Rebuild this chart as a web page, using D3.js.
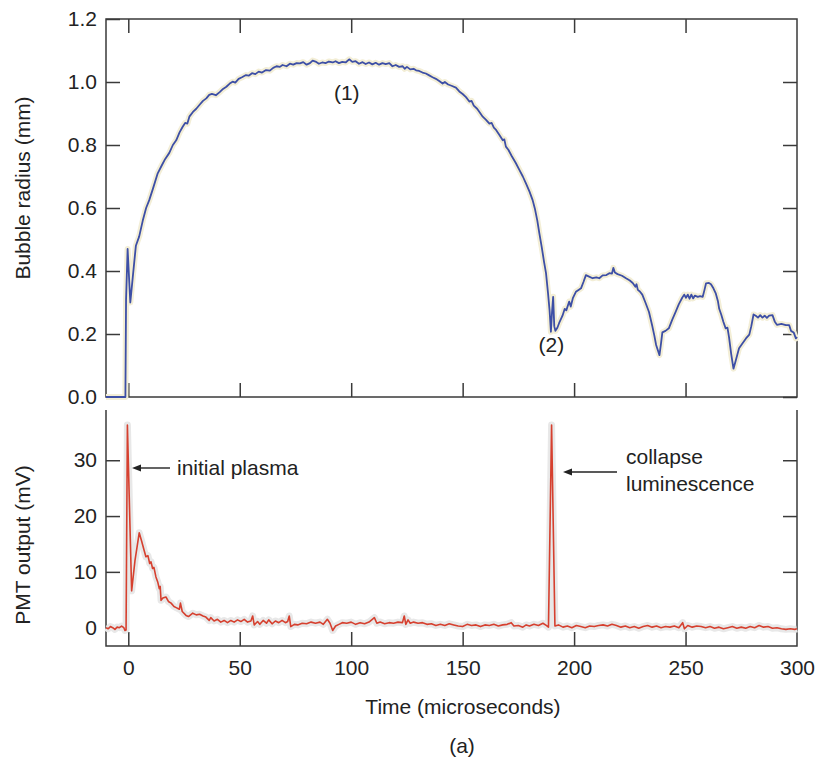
<!DOCTYPE html>
<html>
<head>
<meta charset="utf-8">
<script src="https://cdn.jsdelivr.net/npm/d3@7"></script>
<style>
    body { margin: 0; background: #fff; }
    text { font-family: Arial, 'Liberation Sans', sans-serif; fill: #222; }
</style>
</head>
<body>
<div id="chart"></div>
<script>
// bubble radius (mm) vs time (microseconds)
const radius_time = [
    -10, -1.3, -1.0, -0.3, 0.9, 2.0, 3.4, 4.9, 6.5, 8.0, 9.4, 11.0, 13.2, 15.0, 16.5, 18.4, 20.0, 21.5, 23.0, 24.4,
    25.5, 26.5, 27.4, 29.0, 30.5, 31.9, 33.5, 35.0, 36.3, 37.5, 39.3, 41.0, 42.5, 44.0, 45.5, 46.8, 48.0, 49.5, 51.0, 52.8,
    54.0, 55.5, 57.0, 58.5, 60.0, 61.8, 63.5, 65.0, 66.5, 68.0, 69.2, 71.0, 72.5, 74.0, 75.5, 77.0, 78.5, 80.0, 81.5, 82.7,
    84.0, 85.5, 87.0, 88.5, 90.0, 91.7, 93.0, 94.5, 96.0, 97.5, 99.1, 100.5, 102.0, 103.5, 105.1, 106.5, 108.0, 109.5, 111.0, 112.5,
    114.0, 115.5, 117.1, 118.5, 120.0, 121.5, 123.1, 124.0, 125.0, 126.5, 128.0, 129.1, 130.5, 132.0, 133.5, 135.0, 136.5, 138.0, 139.5, 141.0,
    142.0, 143.5, 145.0, 147.0, 148.5, 150.0, 151.5, 153.0, 154.0, 155.0, 156.5, 158.0, 159.0, 160.5, 162.0, 163.0, 164.0, 165.0, 166.5, 168.0,
    168.7, 169.4, 170.5, 172.0, 173.9, 175.5, 177.0, 178.4, 180.0, 181.4, 182.5, 183.5, 184.4, 185.5, 186.5, 187.4, 188.3, 189.0, 189.6, 190.1,
    190.6, 191.1, 191.6, 192.5, 193.3, 194.8, 195.8, 196.5, 197.8, 198.5, 199.5, 200.8, 202.0, 203.1, 204.2, 205.3, 206.5, 208.3, 210.0, 211.3,
    212.8, 214.5, 215.8, 217.0, 217.6, 218.3, 219.5, 221.5, 223.3, 225.0, 226.3, 227.5, 228.0, 228.6, 229.5, 230.6, 232.0, 233.6, 235.0, 236.0,
    236.8, 237.5, 238.3, 239.0, 239.6, 241.0, 242.5, 244.0, 245.6, 247.0, 248.5, 249.4, 250.2, 251.0, 251.8, 252.6, 253.4, 254.2, 255.5, 256.5,
    257.7, 258.5, 259.2, 260.5, 261.4, 262.5, 263.6, 264.5, 265.1, 266.0, 267.0, 268.0, 268.8, 269.5, 270.5, 271.5, 272.5, 274.0, 275.5, 277.1,
    278.6, 279.5, 280.5, 281.5, 282.5, 283.5, 284.5, 285.5, 286.5, 287.5, 289.0, 290.0, 291.0, 293.0, 295.0, 296.5, 297.3, 298.5, 299.5, 300
];
const radius_mm = [
    0, 0, 0.31, 0.47, 0.30, 0.38, 0.48, 0.51, 0.56, 0.60, 0.625, 0.66, 0.71, 0.735, 0.755, 0.775, 0.80, 0.815, 0.84, 0.858,
    0.87, 0.868, 0.89, 0.905, 0.915, 0.927, 0.94, 0.948, 0.959, 0.962, 0.958, 0.968, 0.978, 0.985, 0.995, 1.001, 0.998, 1.01, 1.015, 1.022,
    1.02, 1.028, 1.025, 1.033, 1.03, 1.038, 1.036, 1.045, 1.05, 1.048, 1.054, 1.05, 1.058, 1.055, 1.06, 1.059, 1.063, 1.055, 1.06, 1.068,
    1.065, 1.058, 1.062, 1.06, 1.065, 1.062, 1.066, 1.06, 1.064, 1.062, 1.072, 1.064, 1.066, 1.058, 1.063, 1.057, 1.062, 1.056, 1.061, 1.055,
    1.06, 1.057, 1.06, 1.05, 1.054, 1.048, 1.05, 1.042, 1.048, 1.04, 1.042, 1.037, 1.035, 1.03, 1.027, 1.021, 1.015, 1.01, 1.003, 0.995,
    1.0, 0.992, 0.988, 0.982, 0.97, 0.962, 0.952, 0.938, 0.94, 0.925, 0.915, 0.9, 0.89, 0.88, 0.868, 0.87, 0.855, 0.848, 0.832, 0.815,
    0.818, 0.795, 0.785, 0.765, 0.742, 0.72, 0.7, 0.678, 0.652, 0.625, 0.595, 0.56, 0.52, 0.475, 0.43, 0.393, 0.33, 0.275, 0.207, 0.27,
    0.318, 0.225, 0.21, 0.22, 0.235, 0.258, 0.28, 0.275, 0.303, 0.287, 0.315, 0.334, 0.34, 0.345, 0.365, 0.387, 0.383, 0.377, 0.38, 0.377,
    0.386, 0.387, 0.393, 0.392, 0.41, 0.395, 0.39, 0.385, 0.377, 0.37, 0.362, 0.35, 0.358, 0.34, 0.335, 0.325, 0.3, 0.27, 0.228, 0.195,
    0.165, 0.15, 0.133, 0.17, 0.205, 0.21, 0.218, 0.245, 0.271, 0.295, 0.315, 0.325, 0.315, 0.325, 0.312, 0.325, 0.313, 0.322, 0.318, 0.32,
    0.318, 0.34, 0.361, 0.362, 0.358, 0.345, 0.328, 0.305, 0.28, 0.262, 0.238, 0.218, 0.22, 0.19, 0.135, 0.09, 0.115, 0.155, 0.17, 0.186,
    0.198, 0.225, 0.262, 0.258, 0.252, 0.26, 0.252, 0.258, 0.251, 0.258, 0.26, 0.24, 0.229, 0.232, 0.228, 0.228, 0.21, 0.205, 0.186, 0.19
];

// PMT output (mV) vs time (microseconds)
const pmt_time = [
    -10, -9, -8, -7, -6, -5, -4, -3, -2, -1.5, -1.0, -0.4, 1.5, 3.0, 4.9, 6.0, 7.0, 7.9, 8.8, 9.6,
    10.2, 10.9, 11.5, 12.4, 13.2, 13.9, 14.3, 14.7, 15.5, 16.9, 18.0, 19.2, 20.5, 21.5, 22.9, 23.4, 24.2, 25.9, 27.0, 28.9,
    30.5, 32.0, 33.5, 34.8, 36.3, 37.0, 38.5, 40.0, 41.5, 43.0, 44.5, 46.0, 47.5, 49.0, 50.5, 52.0, 53.5, 55.0, 55.8, 56.5,
    58.0, 59.0, 60.5, 62.0, 63.0, 64.5, 66.0, 67.5, 69.0, 70.5, 71.5, 72.2, 72.9, 74.5, 76.0, 78.0, 80.0, 82.0, 84.0, 86.0,
    87.5, 89.3, 90.5, 91.7, 93.0, 94.5, 96.0, 98.0, 100.0, 102.0, 104.0, 106.0, 108.0, 110.4, 111.5, 113.0, 115.0, 117.0, 119.0, 121.0,
    123.0, 123.8, 124.5, 125.5, 126.5, 128.0, 130.0, 132.0, 134.0, 136.0, 138.0, 140.0, 142.0, 144.0, 146.0, 148.0, 150.0, 152.0, 154.0, 156.0,
    158.0, 160.0, 162.0, 164.0, 166.0, 168.0, 170.0, 171.8, 173.0, 175.0, 177.0, 178.5, 180.0, 182.0, 184.0, 186.0, 187.5, 188.5, 189.9, 191.4,
    193.0, 195.0, 197.0, 199.0, 201.0, 203.0, 205.0, 207.0, 209.0, 211.0, 213.0, 215.0, 217.0, 219.0, 221.0, 223.0, 225.0, 227.0, 229.0, 231.0,
    233.0, 235.0, 237.0, 239.0, 241.0, 243.0, 245.0, 247.0, 248.7, 249.5, 251.0, 253.0, 255.0, 257.0, 259.0, 261.0, 263.0, 265.0, 267.0, 269.0,
    271.0, 273.0, 275.0, 277.0, 279.0, 281.0, 283.0, 285.0, 287.0, 289.0, 291.0, 293.0, 295.0, 297.0, 299.0, 300
];
const pmt_mv = [
    0, -0.2, 0.2, 0, -0.3, 0.1, 0, 0.3, 0, -0.5, -0.4, 36.3, 6.6, 12, 17.0, 15.5, 14, 12.7, 12.9, 11.5,
    11.8, 10.6, 10.8, 9.1, 8.2, 7.0, 7.4, 4.9, 5.3, 5.5, 4.7, 4.4, 3.8, 3.6, 3.3, 4.4, 2.9, 2.2, 2.0, 2.6,
    2.3, 2.4, 2.1, 1.9, 1.3, 1.8, 1.2, 1.5, 1.0, 1.3, 0.9, 1.3, 1.0, 1.4, 1.1, 1.5, 1.0, 1.2, 2.1, 0.5,
    1.1, 0.6, 1.3, 0.8, 1.4, 0.7, 1.2, 0.9, 1.3, 0.9, 1.1, 2.1, 0.2, 0.6, 0.5, 0.8, 0.7, 1.0, 0.8, 1.0,
    0.6, 1.5, 0.8, -0.5, 0.3, 0.6, 0.9, 0.8, 1.0, 0.6, 0.9, 0.7, 1.0, 1.8, 0.8, 1.0, 0.7, 0.9, 0.8, 1.0,
    0.9, 2.1, 0.6, 1.4, 0.8, 1.0, 0.8, 0.9, 0.6, 0.7, 0.4, 0.6, 0.4, 0.7, 0.5, 0.3, 0.2, 0.6, 0.4, 0.5,
    0.2, 0.5, 0.4, 0.6, 0.3, 0.5, 0.6, 0.9, 0.3, 0.4, 0.1, 0.5, 0.3, 0.6, 0.4, 0.8, 0.4, 0.1, 36.3, 0.3,
    0.5, 0.1, 0.3, 0.0, 0.4, 0.2, 0.0, 0.3, 0.2, 0.4, 0.5, 0.3, 0.6, 0.4, 0.1, 0.3, 0.0, 0.2, -0.1, 0.2,
    0.4, 0.1, 0.3, 0.0, 0.2, 0.1, 0.3, 0.0, 0.9, -0.2, 0.4, 0.1, 0.3, 0.2, 0.0, 0.2, -0.1, 0.1, -0.2, 0.0,
    0.2, -0.1, 0.1, -0.1, 0.2, 0.0, 0.4, 0.1, 0.2, -0.1, 0.0, -0.2, -0.3, -0.2, -0.3, -0.2
];

const time_ticks = [0, 50, 100, 150, 200, 250, 300];
const radius_ticks = [0.0, 0.2, 0.4, 0.6, 0.8, 1.0, 1.2];
const pmt_ticks = [0, 10, 20, 30];

const chart_width = 825;
const chart_height = 760;
const left = 106;
const right = 797;
const top_panel = [19, 397];
const bottom_panel = [410, 646];
const tick_len = 14;
const font_size = 21;
const frame_color = '#3a3a3a';

const svg = d3.select('#chart')
    .append('svg')
    .attr('width', chart_width)
    .attr('height', chart_height);

// Scales
const x_scale = d3.scaleLinear()
    .domain([-10, 300])
    .range([left, right]);

const r_scale = d3.scaleLinear()
    .domain([0, 1.2])
    .range([top_panel[1], top_panel[0]]);

const v_scale = d3.scaleLinear()
    .domain([-3.28, 39.0])
    .range([bottom_panel[1], bottom_panel[0]]);

// style helper for axes
function style_axis(g) {
    g.select('.domain').remove();
    g.selectAll('.tick line')
        .attr('stroke', frame_color)
        .attr('stroke-width', 1.5);
    g.selectAll('.tick text')
        .attr('font-size', font_size)
        .attr('fill', '#222');
}

// top panel axes
svg.append('g')
    .attr('transform', `translate(${left},0)`)
    .call(d3.axisLeft(r_scale).tickValues(radius_ticks).tickFormat(d3.format('.1f'))
        .tickSize(-tick_len).tickPadding(9))
    .call(style_axis);

svg.append('g')
    .attr('transform', `translate(${right},0)`)
    .call(d3.axisRight(r_scale).tickValues(radius_ticks.slice(0, 6)).tickFormat('')
        .tickSize(-tick_len))
    .call(style_axis);

svg.append('g')
    .attr('transform', `translate(0,${top_panel[0]})`)
    .call(d3.axisTop(x_scale).tickValues(time_ticks.slice(0, 6)).tickFormat('')
        .tickSize(-tick_len))
    .call(style_axis);

svg.append('g')
    .attr('transform', `translate(0,${top_panel[1]})`)
    .call(d3.axisBottom(x_scale).tickValues(time_ticks.slice(0, 6)).tickFormat('')
        .tickSize(-tick_len))
    .call(style_axis);

// bottom panel axes
svg.append('g')
    .attr('transform', `translate(${left},0)`)
    .call(d3.axisLeft(v_scale).tickValues(pmt_ticks)
        .tickSize(-tick_len).tickPadding(9))
    .call(style_axis);

svg.append('g')
    .attr('transform', `translate(${right},0)`)
    .call(d3.axisRight(v_scale).tickValues(pmt_ticks).tickFormat('')
        .tickSize(-tick_len))
    .call(style_axis);

svg.append('g')
    .attr('transform', `translate(0,${bottom_panel[1]})`)
    .call(d3.axisBottom(x_scale).tickValues(time_ticks)
        .tickSize(-tick_len).tickPadding(14))
    .call(style_axis)
    .call(g => g.selectAll('.tick line').filter(d => d === 300).remove());

// frames: full box on top, open top edge on bottom panel
svg.append('rect')
    .attr('x', left)
    .attr('y', top_panel[0])
    .attr('width', right - left)
    .attr('height', top_panel[1] - top_panel[0])
    .attr('fill', 'none')
    .attr('stroke', frame_color)
    .attr('stroke-width', 1.5);

svg.append('path')
    .attr('d', `M${left},${bottom_panel[0]}V${bottom_panel[1]}H${right}V${bottom_panel[0]}`)
    .attr('fill', 'none')
    .attr('stroke', frame_color)
    .attr('stroke-width', 1.5);

// Lines
const radius_data = radius_time.map((t, i) => [t, radius_mm[i]]);
const pmt_data = pmt_time.map((t, i) => [t, pmt_mv[i]]);

const radius_line = d3.line()
    .x(d => x_scale(d[0]))
    .y(d => r_scale(d[1]));

const pmt_line = d3.line()
    .x(d => x_scale(d[0]))
    .y(d => v_scale(d[1]));

svg.append('path')
    .datum(radius_data)
    .attr('d', radius_line)
    .attr('fill', 'none')
    .attr('stroke', '#f3eed6')
    .attr('stroke-width', 6)
    .attr('stroke-linejoin', 'round');

svg.append('path')
    .datum(pmt_data)
    .attr('d', pmt_line)
    .attr('fill', 'none')
    .attr('stroke', '#e8e8e8')
    .attr('stroke-width', 7)
    .attr('stroke-linejoin', 'round');

svg.append('path')
    .datum(radius_data)
    .attr('d', radius_line)
    .attr('fill', 'none')
    .attr('stroke', '#3d4fa6')
    .attr('stroke-width', 1.8)
    .attr('stroke-linejoin', 'round');

svg.append('path')
    .datum(pmt_data)
    .attr('d', pmt_line)
    .attr('fill', 'none')
    .attr('stroke', '#d6402f')
    .attr('stroke-width', 1.6)
    .attr('stroke-linejoin', 'round');

// Axis titles
svg.append('text')
    .attr('transform', 'translate(30,188) rotate(-90)')
    .attr('text-anchor', 'middle')
    .attr('font-size', font_size)
    .text('Bubble radius (mm)');

svg.append('text')
    .attr('transform', 'translate(30,545) rotate(-90)')
    .attr('text-anchor', 'middle')
    .attr('font-size', font_size)
    .text('PMT output (mV)');

svg.append('text')
    .attr('x', 463)
    .attr('y', 714)
    .attr('text-anchor', 'middle')
    .attr('font-size', font_size)
    .text('Time (microseconds)');

svg.append('text')
    .attr('x', 462)
    .attr('y', 753)
    .attr('text-anchor', 'middle')
    .attr('font-size', font_size)
    .text('(a)');

// Annotations
svg.append('text')
    .attr('x', x_scale(98))
    .attr('y', 100)
    .attr('text-anchor', 'middle')
    .attr('font-size', font_size)
    .text('(1)');

svg.append('text')
    .attr('x', x_scale(189.8))
    .attr('y', 352)
    .attr('text-anchor', 'middle')
    .attr('font-size', font_size)
    .text('(2)');

// left-pointing arrow: shaft plus filled head
function arrow(x_tip, x_tail, y) {
    svg.append('line')
        .attr('x1', x_tail).attr('y1', y)
        .attr('x2', x_tip + 6).attr('y2', y)
        .attr('stroke', '#222')
        .attr('stroke-width', 1.4);
    svg.append('path')
        .attr('d', `M${x_tip},${y}L${x_tip + 9},${y - 3.5}L${x_tip + 9},${y + 3.5}Z`)
        .attr('fill', '#222');
}

arrow(132, 170, 468);

svg.append('text')
    .attr('x', 177)
    .attr('y', 475)
    .attr('font-size', font_size)
    .text('initial plasma');

arrow(563, 617, 472);

svg.append('text')
    .attr('x', 626)
    .attr('y', 464)
    .attr('font-size', font_size)
    .text('collapse');

svg.append('text')
    .attr('x', 626)
    .attr('y', 491)
    .attr('font-size', font_size)
    .text('luminescence');
</script>
</body>
</html>
